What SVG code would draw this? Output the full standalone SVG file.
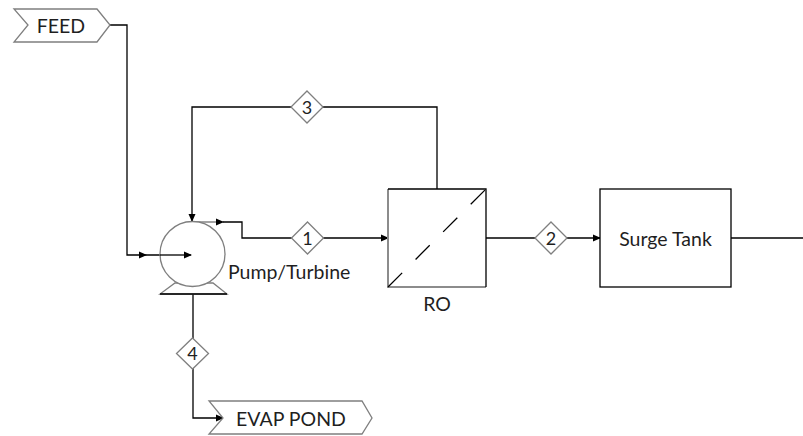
<svg xmlns="http://www.w3.org/2000/svg" width="803" height="436" viewBox="0 0 803 436">
<style>
.ln{fill:none;stroke:#000;stroke-width:1.3}
.tag{fill:#fff;stroke:#7f7f7f;stroke-width:1.3}
.dia{fill:#fff;stroke:#7f7f7f;stroke-width:1.3}
.box{fill:#fff;stroke:#000;stroke-width:1.3}
.t{font-family:Lato,"Liberation Sans",sans-serif;font-size:19.5px;fill:#1f1f1f}
.n{font-family:Lato,"Liberation Sans",sans-serif;font-size:18px;fill:#1f1f1f;text-anchor:middle}
</style>
<defs>
<marker id="ar" viewBox="0 0 8 8" refX="7" refY="4" markerWidth="8" markerHeight="8" markerUnits="userSpaceOnUse" orient="auto">
<path d="M0,0.5 L8,4 L0,7.5 Z" fill="#000"/>
</marker>
</defs>
<rect width="803" height="436" fill="#fff"/>
<g id="connectors">
<path class="ln" d="M110,25 H127 V255 H146" marker-end="url(#ar)"/>
<path class="ln" d="M146,255 H191" marker-end="url(#ar)"/>
<path class="ln" d="M437,189 V107 H192 V221" marker-end="url(#ar)"/>
<path d="M192,222 H223" fill="none" stroke="#8c8c8c" stroke-width="1.6" marker-end="url(#ar)"/>
<path class="ln" d="M223,222 H242 V238 H388" marker-end="url(#ar)"/>
<path class="ln" d="M486,238 H600" marker-end="url(#ar)"/>
<path class="ln" d="M731,238 H803"/>
<path class="ln" d="M193,294 V418 H223" marker-end="url(#ar)"/>
</g>
<g id="feed">
<polygon class="tag" points="14,9 97,9 110,25 97,42 14,42 28,25"/>
<text class="t" x="61" y="33" text-anchor="middle">FEED</text>
</g>
<g id="pump">
<polygon points="175,283 213,283 227,294 160,294" fill="#fff" stroke="#7f7f7f" stroke-width="1.3"/>
<line x1="160" y1="294" x2="227" y2="294" stroke="#000" stroke-width="1.3"/>
<circle cx="192.5" cy="254" r="32.5" fill="#fff" stroke="#7f7f7f" stroke-width="1.3"/>
<path class="ln" d="M160,255 H191" marker-end="url(#ar)"/>
<text class="t" x="228" y="279">Pump/Turbine</text>
</g>
<g id="s3">
<polygon class="dia" points="307,91 323,107 307,123 291,107"/>
<text class="n" x="307" y="113.5">3</text>
</g>
<g id="s1">
<polygon class="dia" points="307.5,222 323.5,238 307.5,254 291.5,238"/>
<text class="n" x="307.5" y="244.5">1</text>
</g>
<g id="s2">
<polygon class="dia" points="551,222 567,238 551,254 535,238"/>
<text class="n" x="551" y="244.5">2</text>
</g>
<g id="s4">
<polygon class="dia" points="192.5,338 208.5,353.5 192.5,369 176.5,353.5"/>
<text class="n" x="192.5" y="360">4</text>
</g>
<g id="ro">
<rect x="388" y="189" width="98" height="98" fill="#fff"/>
<path d="M388,189 V287 H486" fill="none" stroke="#8c8c8c" stroke-width="2"/>
<path d="M388,189 H486 V287" fill="none" stroke="#000" stroke-width="1.3"/>
<line x1="388" y1="287" x2="486" y2="189" stroke="#000" stroke-width="1.3" stroke-dasharray="20 19"/>
<text class="t" x="437" y="311" text-anchor="middle">RO</text>
</g>
<g id="surge">
<rect class="box" x="600" y="189" width="131" height="98"/>
<text class="t" x="665.5" y="246" text-anchor="middle">Surge Tank</text>
</g>
<g id="evap">
<polygon class="tag" points="209,401 362,401 372,418 362,434 209,434 223,418"/>
<text class="t" x="291" y="426" text-anchor="middle">EVAP POND</text>
</g>
</svg>
